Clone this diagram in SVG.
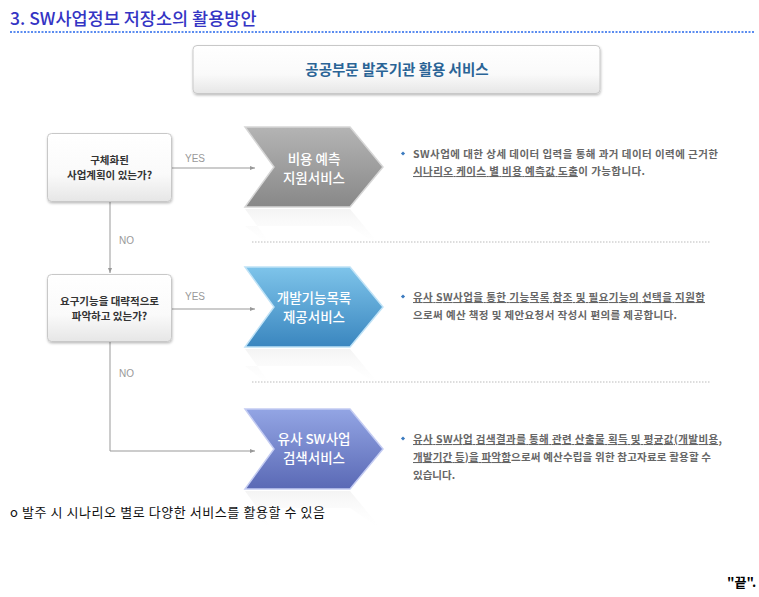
<svg xmlns="http://www.w3.org/2000/svg" width="759" height="597" viewBox="0 0 759 597">
<style>
text{font-family:"Noto Sans CJK KR","Noto Sans",sans-serif;}
.ttl{font-size:17.5px;font-weight:500;fill:#3434c4;}
.hdr{font-size:14.5px;font-weight:700;fill:#2a6496;}
.q{font-size:10.5px;font-weight:700;fill:#333;}
.lbl{font-family:"Liberation Sans",Arial,sans-serif;font-size:10px;fill:#999;}
.chv{font-size:13.5px;font-weight:500;fill:#fff;}
.desc{font-size:10.5px;font-weight:700;fill:#666;}
.u{text-decoration:underline;}
.box{stroke:#c8c8c8;stroke-width:1;fill:url(#gBox);filter:url(#sh);}
.con{stroke:#999;stroke-width:1;fill:none;}
.sep{stroke:#bbb;stroke-width:1;stroke-dasharray:1.5 1.5;}
.bul{fill:#3a7abf;}
</style>
<defs>
<linearGradient id="gBox" x1="0" y1="0" x2="0" y2="1">
<stop offset="0" stop-color="#ffffff"/><stop offset="0.6" stop-color="#fafafa"/><stop offset="1" stop-color="#e6e6e6"/>
</linearGradient>
<linearGradient id="gGray" x1="0" y1="0" x2="0" y2="1">
<stop offset="0" stop-color="#b4b4b4"/><stop offset="1" stop-color="#888888"/>
</linearGradient>
<linearGradient id="gBlue" x1="0" y1="0" x2="0" y2="1">
<stop offset="0" stop-color="#7ec4ea"/><stop offset="1" stop-color="#3a86bf"/>
</linearGradient>
<linearGradient id="gPurp" x1="0" y1="0" x2="0" y2="1">
<stop offset="0" stop-color="#93a5e4"/><stop offset="1" stop-color="#5a69b5"/>
</linearGradient>
<linearGradient id="gRef" x1="0" y1="0" x2="0" y2="1">
<stop offset="0" stop-color="#ececec" stop-opacity="0.6"/><stop offset="1" stop-color="#ffffff" stop-opacity="0"/>
</linearGradient>
<filter id="sh" x="-10%" y="-10%" width="120%" height="130%">
<feDropShadow dx="0.5" dy="1.5" stdDeviation="1" flood-color="#000" flood-opacity="0.25"/>
</filter>
<marker id="ah" markerWidth="6" markerHeight="6" refX="5" refY="3" orient="auto" markerUnits="userSpaceOnUse">
<path d="M0,1 L5,3 L0,5 Z" fill="#999"/>
</marker>
</defs>
<rect width="759" height="597" fill="#fff"/>

<g id="title">
<text class="ttl" x="10" y="25">3. SW사업정보 저장소의 활용방안</text>
<line x1="10" y1="32" x2="754" y2="32" stroke="#5b8cf0" stroke-width="2" stroke-dasharray="2 1.5"/>
</g>

<g id="header">
<rect class="box" x="193" y="45.5" width="407" height="48" rx="4"/>
<text class="hdr" x="397" y="75" text-anchor="middle">공공부문 발주기관 활용 서비스</text>
</g>

<g id="connectors">
<line class="con" x1="172" y1="168" x2="255" y2="168" marker-end="url(#ah)"/>
<line class="con" x1="110" y1="202" x2="110" y2="273" marker-end="url(#ah)"/>
<line class="con" x1="172" y1="309" x2="255" y2="309" marker-end="url(#ah)"/>
<path class="con" d="M110,342 L110,451 L255,451" marker-end="url(#ah)"/>
<text class="lbl" x="185" y="162">YES</text>
<text class="lbl" x="119" y="244">NO</text>
<text class="lbl" x="185" y="300">YES</text>
<text class="lbl" x="119" y="377">NO</text>
</g>

<g id="q1">
<rect class="box" x="47.5" y="133.5" width="124" height="68" rx="4"/>
<text class="q" x="109.5" y="164" text-anchor="middle">구체화된</text>
<text class="q" x="109.5" y="179" text-anchor="middle">사업계획이 있는가?</text>
</g>

<g id="q2">
<rect class="box" x="47.5" y="274.5" width="124" height="67" rx="4"/>
<text class="q" x="109.5" y="305" text-anchor="middle">요구기능을 대략적으로</text>
<text class="q" x="109.5" y="320" text-anchor="middle">파악하고 있는가?</text>
</g>

<g id="separators">
<line class="sep" x1="252" y1="242" x2="711" y2="242"/>
<line class="sep" x1="252" y1="382" x2="711" y2="382"/>
</g>

<g id="s1">
<polygon points="245,209 350,209 383,249 350,226 245,226 274,249" fill="url(#gRef)"/>
<polygon points="245,127 350,127 383,167 350,207 245,207 274,167" fill="url(#gGray)" stroke="#d6d6d6" stroke-width="1.5"/>
<text class="chv" x="314" y="164" text-anchor="middle">비용 예측</text>
<text class="chv" x="314" y="183" text-anchor="middle">지원서비스</text>
</g>

<g id="s2">
<polygon points="245,349 350,349 383,389 350,366 245,366 274,389" fill="url(#gRef)"/>
<polygon points="245,267 350,267 383,307 350,347 245,347 274,307" fill="url(#gBlue)" stroke="#bfe2f6" stroke-width="1.5"/>
<text class="chv" x="314" y="303" text-anchor="middle">개발기능목록</text>
<text class="chv" x="314" y="322" text-anchor="middle">제공서비스</text>
</g>

<g id="s3">
<polygon points="245,491 350,491 383,531 350,508 245,508 274,531" fill="url(#gRef)"/>
<polygon points="245,409 350,409 383,449 350,489 245,489 274,449" fill="url(#gPurp)" stroke="#c4ccf2" stroke-width="1.5"/>
<text class="chv" x="314" y="444" text-anchor="middle">유사 SW사업</text>
<text class="chv" x="314" y="463" text-anchor="middle">검색서비스</text>
</g>

<g id="d1">
<rect class="bul" x="401.5" y="152" width="3" height="3" transform="rotate(45 403 153.5)"/>
<text class="desc" x="413" y="158" textLength="305" lengthAdjust="spacing">SW사업에 대한 상세 데이터 입력을 통해 과거 데이터 이력에 근거한</text>
<text class="desc" x="413" y="175" textLength="232" lengthAdjust="spacing"><tspan class="u">시나리오 케이스 별 비용 예측값 도출</tspan>이 가능합니다.</text>
</g>

<g id="d2">
<rect class="bul" x="401.5" y="295" width="3" height="3" transform="rotate(45 403 296.5)"/>
<text class="desc" x="413" y="301" textLength="292" lengthAdjust="spacing"><tspan class="u">유사 SW사업을 통한 기능목록 참조 및 필요기능의 선택을 지원함</tspan></text>
<text class="desc" x="413" y="319" textLength="264" lengthAdjust="spacing">으로써 예산 책정 및 제안요청서 작성시 편의를 제공합니다.</text>
</g>

<g id="d3">
<rect class="bul" x="401.5" y="437" width="3" height="3" transform="rotate(45 403 438.5)"/>
<text class="desc" x="413" y="443" textLength="309" lengthAdjust="spacing"><tspan class="u">유사 SW사업 검색결과를 통해 관련 산출물 획득 및 평균값(개발비용,</tspan></text>
<text class="desc" x="413" y="461" textLength="298" lengthAdjust="spacing"><tspan class="u">개발기간 등)을 파악함</tspan>으로써 예산수립을 위한 참고자료로 활용할 수</text>
<text class="desc" x="413" y="479">있습니다.</text>
</g>

<g id="footer">
<text x="10" y="517" font-size="13" fill="#111" textLength="315" lengthAdjust="spacing">o 발주 시 시나리오 별로 다양한 서비스를 활용할 수 있음</text>
<text x="727" y="587" font-size="13" font-weight="700" fill="#000">"끝".</text>
</g>
</svg>
